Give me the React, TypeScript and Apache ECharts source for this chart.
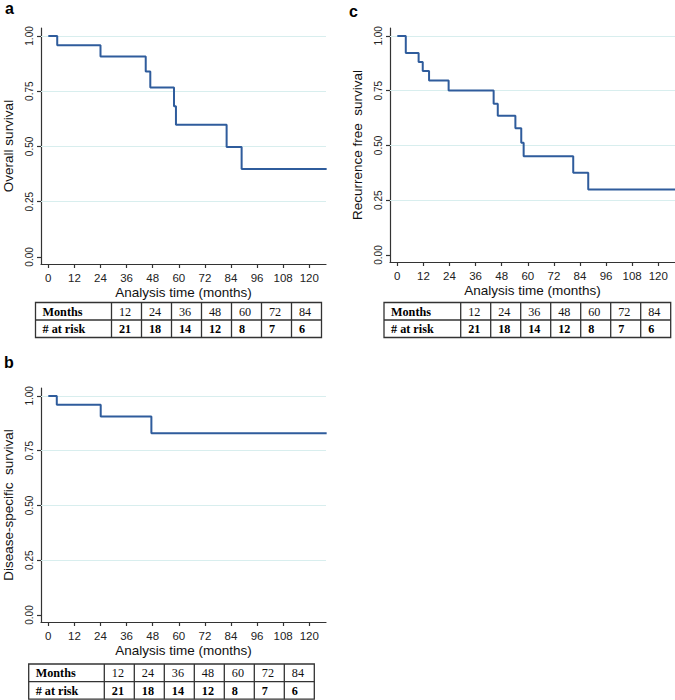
import React, { useEffect, useRef } from "react";
import * as echarts from "echarts";

// ---------- data ----------
const xTicks = [0, 12, 24, 36, 48, 60, 72, 84, 96, 108, 120];
const yTicks = [0, 0.25, 0.5, 0.75, 1];
const gridValues = [0.25, 0.5, 0.75, 1];

const tableMonths = [12, 24, 36, 48, 60, 72, 84];
const atRiskA = [21, 18, 14, 12, 8, 7, 6];
const atRiskB = [21, 18, 14, 12, 8, 7, 6];
const atRiskC = [21, 18, 14, 12, 8, 7, 6];

// [months, survival]
const overallSurvival = [
  [0, 1], [4.1, 0.958], [24, 0.907], [44.8, 0.839], [46.9, 0.767],
  [57.8, 0.682], [58.7, 0.598], [82, 0.498], [88.9, 0.398], [128, 0.398],
];
const diseaseSpecific = [
  [0, 1], [3.9, 0.96], [24.1, 0.906], [47.4, 0.83], [128, 0.83],
];
const recurrenceFree = [
  [0, 1], [3.9, 0.922], [9.8, 0.881], [11.7, 0.84], [14.6, 0.796],
  [23.6, 0.751], [44.3, 0.69], [46.2, 0.636], [54.3, 0.578], [57, 0.512],
  [58.1, 0.451], [80.9, 0.375], [87.8, 0.299], [128, 0.299],
];

const xLabel = "Analysis time (months)";
const yLabels = ["Overall survival", "Disease-specific  survival", "Recurrence free  survival"];
const panelLetters = ["a", "b", "c"];
const rowHeaders = ["Months", "# at risk"];

// ---------- styles ----------
const SANS = "Liberation Sans, Arial, sans-serif";
const SERIF = "Liberation Serif, Times New Roman, serif";
const LINE = "#2f5c9c";
const AXIS = "#333";
const GRID = "#d8eeee";

export default function App() {
  const ref = useRef<HTMLDivElement>(null);

  useEffect(() => {
    if (!ref.current) return;
    const chart = echarts.init(ref.current, null, { renderer: "svg" });

    const grids = [
      { left: 41, top: 28, width: 285, height: 236 },
      { left: 41, top: 388, width: 285, height: 234 },
      { left: 390, top: 28, width: 285, height: 234 },
    ];
    const seriesData = [overallSurvival, diseaseSpecific, recurrenceFree];
    const atRisk = [atRiskA, atRiskB, atRiskC];
    const tables = [
      { left: 35.5, top: 302.5, firstW: 76, cellW: 30, rowH: 17.5 },
      { left: 28.7, top: 664, firstW: 75.6, cellW: 30, rowH: 17.6 },
      { left: 384, top: 302.5, firstW: 76.7, cellW: 30, rowH: 17.5 },
    ];
    const letterPos = [
      { x: 5, y: 16 },
      { x: 4, y: 370 },
      { x: 349, y: 19.5 },
    ];

    const xAxes = grids.map((_, i) => ({
      gridIndex: i,
      type: "value",
      min: -3.36,
      max: 127.7,
      axisLine: { show: true, onZero: false, lineStyle: { color: AXIS, width: 1.2 } },
      axisTick: { show: true, customValues: xTicks, length: 4, lineStyle: { color: AXIS, width: 1.2 } },
      axisLabel: {
        customValues: xTicks,
        margin: 8,
        fontSize: 11.5,
        color: "#222",
        fontFamily: SANS,
      },
      splitLine: { show: false },
      name: xLabel,
      nameLocation: "middle",
      nameGap: 21,
      nameTextStyle: { fontSize: 13.5, color: "#111", fontFamily: SANS },
    }));

    const yAxes = grids.map((_, i) => ({
      gridIndex: i,
      type: "value",
      min: -0.032,
      max: 1.036,
      axisLine: { show: true, onZero: false, lineStyle: { color: AXIS, width: 1.2 } },
      axisTick: { show: true, customValues: yTicks, length: 4, lineStyle: { color: AXIS, width: 1.2 } },
      axisLabel: {
        customValues: yTicks,
        rotate: 90,
        margin: 7,
        fontSize: 10,
        color: "#222",
        fontFamily: SANS,
        formatter: (v: number) => v.toFixed(2),
      },
      splitLine: { show: false },
      name: yLabels[i],
      nameLocation: "middle",
      nameGap: 26,
      nameTextStyle: { fontSize: 13.5, color: "#111", fontFamily: SANS },
    }));

    const series = seriesData.map((d, i) => ({
      type: "line",
      xAxisIndex: i,
      yAxisIndex: i,
      data: d,
      step: "end",
      showSymbol: false,
      symbol: "none",
      clip: true,
      lineStyle: { color: LINE, width: 2 },
      z: 3,
      markLine: {
        silent: true,
        symbol: "none",
        label: { show: false },
        lineStyle: { color: GRID, width: 1, type: "solid" },
        data: gridValues.map((v) => ({ yAxis: v })),
        z: 1,
      },
    }));

    const graphics: any[] = [];
    tables.forEach((t, i) => {
      const totalW = t.firstW + t.cellW * tableMonths.length;
      const totalH = t.rowH * 2;
      const stroke = { stroke: "#333", lineWidth: 1.3, fill: "none" };
      graphics.push({
        type: "rect",
        shape: { x: t.left, y: t.top, width: totalW, height: totalH },
        style: { ...stroke },
      });
      graphics.push({
        type: "line",
        shape: { x1: t.left, y1: t.top + t.rowH, x2: t.left + totalW, y2: t.top + t.rowH },
        style: { ...stroke },
      });
      for (let c = 0; c < tableMonths.length; c++) {
        const cx = t.left + t.firstW + c * t.cellW;
        graphics.push({
          type: "line",
          shape: { x1: cx, y1: t.top, x2: cx, y2: t.top + totalH },
          style: { ...stroke },
        });
      }
      rowHeaders.forEach((h, r) => {
        graphics.push({
          type: "text",
          x: t.left + 7,
          y: t.top + t.rowH * r + t.rowH / 2 + 0.5,
          style: {
            text: h,
            font: `bold 12.2px ${SERIF}`,
            fill: "#000",
            verticalAlign: "middle",
            align: "left",
          },
        });
      });
      tableMonths.forEach((m, c) => {
        const cx = t.left + t.firstW + c * t.cellW + 7.5;
        graphics.push({
          type: "text",
          x: cx,
          y: t.top + t.rowH / 2 + 0.5,
          style: { text: String(m), font: `12.2px ${SERIF}`, fill: "#111", verticalAlign: "middle", align: "left" },
        });
        graphics.push({
          type: "text",
          x: cx,
          y: t.top + t.rowH * 1.5 + 0.5,
          style: {
            text: String(atRisk[i][c]),
            font: `bold 12.2px ${SERIF}`,
            fill: "#000",
            verticalAlign: "middle",
            align: "left",
          },
        });
      });
      graphics.push({
        type: "text",
        x: letterPos[i].x,
        y: letterPos[i].y,
        style: {
          text: panelLetters[i],
          font: `bold 16px ${SANS}`,
          fill: "#000",
          verticalAlign: "bottom",
          align: "left",
        },
      });
    });

    chart.setOption({
      animation: false,
      backgroundColor: "#fff",
      grid: grids,
      xAxis: xAxes,
      yAxis: yAxes,
      series,
      graphic: graphics,
    });

    return () => chart.dispose();
  }, []);

  return (
    <div
      ref={ref}
      style={{ position: "absolute", left: 0, top: 0, width: 675, height: 700 }}
    />
  );
}
